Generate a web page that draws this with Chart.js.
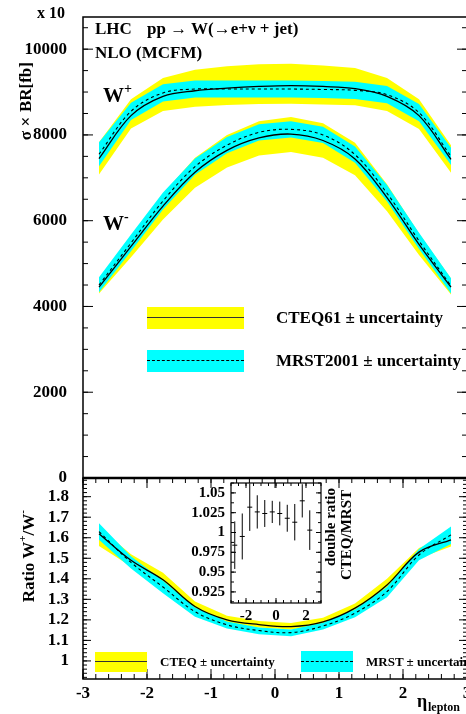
<!DOCTYPE html>
<html><head><meta charset="utf-8">
<script src="https://cdn.jsdelivr.net/npm/chart.js@4.4.0/dist/chart.umd.min.js"></script>
<style>
html,body{margin:0;padding:0;width:466px;height:714px;overflow:hidden;background:#fff;}
canvas{position:absolute;}
.t{position:absolute;font-family:"Liberation Serif","Times New Roman",serif;font-weight:bold;color:#000;white-space:nowrap;line-height:1;}
.v{writing-mode:vertical-rl;transform:rotate(180deg);}
.sw{position:absolute;}
</style></head><body>
<canvas id="top" width="480" height="500" style="left:0;top:0"></canvas>
<canvas id="bot" width="480" height="244" style="left:0;top:470px"></canvas>
<canvas id="ins" width="160" height="150" style="left:180px;top:475px"></canvas>

<div class="t" style="left:37px;top:5px;font-size:16px">x 10</div>
<div class="t" style="left:95px;top:20px;font-size:17px">LHC</div>
<div class="t" style="left:147px;top:20px;font-size:17px">pp → W(→e+ν + jet)</div>
<div class="t" style="left:95px;top:44px;font-size:17px">NLO (MCFM)</div>
<div class="t" style="left:103px;top:82px;font-size:21px">W<sup style="font-size:14px;vertical-align:9px">+</sup></div>
<div class="t" style="left:103px;top:210px;font-size:21px">W<sup style="font-size:14px;vertical-align:9px">-</sup></div>
<div class="t v" style="left:17px;top:62px;font-size:17px">σ×BR[fb]</div>
<div class="t v" style="left:17px;top:510px;font-size:17px">Ratio W<sup style="font-size:11px">+</sup>/W<sup style="font-size:11px">-</sup></div>

<div class="sw" style="left:147px;top:307px;width:97px;height:22px;background:#ffff00"></div>
<div class="sw" style="left:147px;top:317px;width:97px;height:0;border-top:1.5px solid #333"></div>
<div class="t" style="left:276px;top:309px;font-size:17px">CTEQ61 ± uncertainty</div>
<div class="sw" style="left:147px;top:350px;width:97px;height:22px;background:#00ffff"></div>
<div class="sw" style="left:147px;top:360px;width:97px;height:0;border-top:1px dashed #000"></div>
<div class="t" style="left:276px;top:352px;font-size:17px">MRST2001 ± uncertainty</div>

<div class="sw" style="left:95px;top:652px;width:52px;height:20px;background:#ffff00"></div>
<div class="sw" style="left:95px;top:661px;width:52px;height:0;border-top:1.5px solid #333"></div>
<div class="t" style="left:160px;top:655px;font-size:13px">CTEQ ± uncertainty</div>
<div class="sw" style="left:301px;top:651px;width:52px;height:21px;background:#00ffff"></div>
<div class="sw" style="left:301px;top:661px;width:52px;height:0;border-top:1px dashed #000"></div>
<div class="t" style="left:366px;top:655px;font-size:13px">MRST ± uncertainty</div>

<div class="t v" style="left:323px;top:488px;font-size:15px">double ratio</div>
<div class="t v" style="left:339px;top:490px;font-size:15px">CTEQ/MRST</div>
<div class="t" style="left:417px;top:692px;font-size:18px">η</div>
<div class="t" style="left:428px;top:701px;font-size:12px">lepton</div>

<script>
// ---------- data ----------
const eta = [-2.75,-2.25,-1.75,-1.25,-0.75,-0.25,0.25,0.75,1.25,1.75,2.25,2.75];

const wpCteq   = [7450,8450,8900,9030,9090,9130,9150,9130,9080,8900,8450,7430];
const wpCteqUp = [7830,8830,9330,9520,9600,9650,9660,9620,9560,9330,8830,7760];
const wpCteqDn = [7080,8150,8560,8660,8700,8720,8730,8710,8690,8560,8140,7120];
const wpMrst   = [7550,8550,8980,9070,9070,9070,9070,9060,9040,8940,8520,7500];
const wpMrstUp = [7830,8750,9180,9270,9270,9270,9270,9260,9240,9140,8720,7700];
const wpMrstDn = [7270,8350,8780,8870,8870,8870,8870,8860,8840,8740,8320,7300];

const wmCteq   = [4450,5400,6340,7130,7640,7930,8020,7870,7440,6540,5450,4450];
const wmCteqUp = [4650,5640,6630,7470,8000,8320,8420,8270,7820,6850,5700,4650];
const wmCteqDn = [4300,5150,6030,6770,7240,7520,7600,7470,7060,6220,5200,4280];
const wmMrst   = [4500,5480,6460,7260,7760,8060,8130,8000,7540,6640,5530,4480];
const wmMrstUp = [4680,5680,6660,7450,7950,8250,8320,8190,7730,6830,5720,4660];
const wmMrstDn = [4330,5290,6260,7070,7570,7870,7940,7810,7350,6450,5340,4300];

const rCteq   = [1.620,1.490,1.395,1.265,1.200,1.177,1.167,1.190,1.257,1.370,1.530,1.590];
const rCteqUp = [1.650,1.520,1.430,1.290,1.220,1.195,1.185,1.210,1.280,1.400,1.550,1.620];
const rCteqDn = [1.560,1.460,1.370,1.245,1.185,1.163,1.153,1.175,1.240,1.345,1.500,1.557];
const rMrst   = [1.630,1.480,1.360,1.240,1.176,1.148,1.138,1.170,1.233,1.338,1.516,1.614];
const rMrstUp = [1.670,1.510,1.390,1.260,1.192,1.163,1.153,1.186,1.250,1.360,1.545,1.655];
const rMrstDn = [1.590,1.450,1.330,1.215,1.158,1.130,1.120,1.153,1.213,1.310,1.490,1.570];

const dblEta = [-2.75,-2.25,-1.75,-1.25,-0.75,-0.25,0.25,0.75,1.25,1.75,2.25];
const dblVal = [0.984,0.995,1.032,1.026,1.024,1.026,1.024,1.018,1.013,1.040,1.003];
const dblErr = [0.030,0.029,0.030,0.021,0.017,0.014,0.015,0.017,0.023,0.021,0.025];

const topYTicks = [0,2000,4000,6000,8000,10000];
const topYLabels = ['0','2000','4000','6000','8000','10000'];
const botYTicks = [1.0,1.1,1.2,1.3,1.4,1.5,1.6,1.7,1.8];
const botYLabels = ['1','1.1','1.2','1.3','1.4','1.5','1.6','1.7','1.8'];
const xTicks = [-3,-2,-1,0,1,2,3];
const xLabels = ['-3','-2','-1','0','1','2','3'];
const insYTicks = [0.925,0.95,0.975,1.0,1.025,1.05];
const insYLabels = ['0.925','0.95','0.975','1','1.025','1.05'];
const insXTicks = [-2,0,2];
const insXLabels = ['-2','0','2'];

// ---------- helpers ----------
const YEL = '#ffff00', CYA = '#00ffff';
const pts = (xs, arr) => xs.map((x,i)=>({x, y:arr[i]}));
function band(up, dn, color, order){
  return [
    {data:pts(eta,up), borderWidth:0, pointRadius:0, fill:'+1', backgroundColor:color, order, tension:0},
    {data:pts(eta,dn), borderWidth:0, pointRadius:0, fill:false, order, tension:0}
  ];
}
function line(arr, dashed){
  return {data:pts(eta,arr), borderColor:'#000', borderWidth:dashed?1.1:1.3, borderDash:dashed?[3,3]:[],
          pointRadius:0, fill:false, tension:0.35, order:1};
}
function range(a,b,s){const r=[];for(let v=a;v<=b+1e-9;v+=s)r.push(+v.toFixed(6));return r;}

const inTicks = {
  id:'inTicks',
  afterDraw(chart, args, opts){
    const ctx = chart.ctx, a = chart.chartArea;
    ctx.save();
    ctx.strokeStyle = '#000';
    ctx.lineWidth = 1;
    (opts.axes||[]).forEach(ax=>{
      const s = chart.scales[ax.id];
      const draw = (vals, len)=>vals.forEach(v=>{
        const p = s.getPixelForValue(v);
        ax.sides.forEach(side=>{
          ctx.beginPath();
          if(side==='left'){ctx.moveTo(a.left,p);ctx.lineTo(a.left+len,p);}
          if(side==='right'){ctx.moveTo(a.right,p);ctx.lineTo(a.right-len,p);}
          if(side==='bottom'){ctx.moveTo(p,a.bottom);ctx.lineTo(p,a.bottom-len);}
          if(side==='top'){ctx.moveTo(p,a.top);ctx.lineTo(p,a.top+len);}
          ctx.stroke();
        });
      });
      draw(ax.minor, ax.nl);
      draw(ax.major, ax.ml);
    });
    ctx.lineWidth = opts.frame||1.5;
    ctx.strokeRect(a.left, a.top, a.right-a.left, a.bottom-a.top);
    if(opts.topLine){ctx.lineWidth=opts.topLine;ctx.beginPath();ctx.moveTo(a.left,a.top);ctx.lineTo(a.right,a.top);ctx.stroke();}
    ctx.restore();
  }
};
Chart.register(inTicks);
Chart.defaults.font.family = '"Liberation Serif","Times New Roman",serif';
Chart.defaults.font.weight = 'bold';
Chart.defaults.font.size = 17;
Chart.defaults.color = '#000';

const fixTicks = (vals)=> (s)=>{ s.ticks = vals.map(v=>({value:v})); };
const labelOf = (vals, labs)=> (v)=>{ const i = vals.findIndex(t=>Math.abs(t-v)<1e-9); return i>=0?labs[i]:''; };
const fitY = (w)=> (s)=>{ s.width = w; s.paddingTop = 0; s.paddingBottom = 0; s.paddingLeft = 0; s.paddingRight = 0; };
const fitX = (h)=> (s)=>{ s.height = h; s.paddingLeft = 0; s.paddingRight = 0; s.paddingTop = 0; s.paddingBottom = 0; };
const base = {responsive:false, animation:false, events:[],
  plugins:{legend:{display:false}, tooltip:{enabled:false}}};

// ---------- top chart ----------
new Chart(document.getElementById('top'), {
  type:'line',
  data:{datasets:[
    ...band(wpCteqUp, wpCteqDn, YEL, 4), ...band(wmCteqUp, wmCteqDn, YEL, 4),
    ...band(wpMrstUp, wpMrstDn, CYA, 3), ...band(wmMrstUp, wmMrstDn, CYA, 3),
    line(wpCteq,false), line(wpMrst,true), line(wmCteq,false), line(wmMrst,true)
  ]},
  options:{...base,
    layout:{padding:{left:0,right:13,top:17,bottom:22}},
    scales:{
      x:{type:'linear', min:-3, max:3, display:false},
      y:{type:'linear', min:0, max:10750,
         afterBuildTicks:fixTicks(topYTicks),
         afterFit:fitY(83),
         grid:{display:false, drawTicks:false}, border:{display:false},
         ticks:{padding:16, autoSkip:false, callback:labelOf(topYTicks, topYLabels), font:{size:17}}}
    },
    plugins:{...base.plugins, inTicks:{frame:1.5, axes:[
      {id:'y', sides:['left','right'], major:topYTicks, minor:range(0,10500,500), ml:10, nl:5}
    ]}}
  }
});

// ---------- ratio chart ----------
new Chart(document.getElementById('bot'), {
  type:'line',
  data:{datasets:[
    ...band(rCteqUp, rCteqDn, YEL, 4), ...band(rMrstUp, rMrstDn, CYA, 3),
    line(rCteq,false), line(rMrst,true)
  ]},
  options:{...base,
    layout:{padding:{left:0,right:13,top:8,bottom:0}},
    scales:{
      x:{type:'linear', min:-3, max:3,
         afterBuildTicks:fixTicks(xTicks),
         afterFit:fitX(35),
         grid:{display:false, drawTicks:false}, border:{display:false},
         ticks:{padding:4, maxRotation:0, autoSkip:false, callback:labelOf(xTicks,xLabels), font:{size:17}}},
      y:{type:'linear', min:0.912, max:1.891,
         afterBuildTicks:fixTicks(botYTicks),
         afterFit:fitY(83),
         grid:{display:false, drawTicks:false}, border:{display:false},
         ticks:{padding:14, autoSkip:false, callback:labelOf(botYTicks,botYLabels), font:{size:17}}}
    },
    plugins:{...base.plugins, inTicks:{frame:1.5, topLine:2.5, axes:[
      {id:'y', sides:['left','right'], major:botYTicks, minor:range(0.92,1.88,0.02), ml:8, nl:4},
      {id:'x', sides:['bottom','top'], major:xTicks, minor:range(-3,3,0.2), ml:10, nl:5}
    ]}}
  }
});

// ---------- inset ----------
const errPts = dblEta.flatMap((x,i)=>[{x,y:dblVal[i]-dblErr[i]},{x,y:dblVal[i]+dblErr[i]},{x,y:null}]);
new Chart(document.getElementById('ins'), {
  type:'line',
  data:{datasets:[
    {data:errPts, borderColor:'#000', borderWidth:1, pointRadius:0, spanGaps:false, fill:false, tension:0},
    {data:pts(dblEta,dblVal), showLine:false, pointStyle:'line', pointRadius:2.5, borderColor:'#000', borderWidth:1}
  ]},
  options:{...base,
    layout:{padding:{left:0,right:19,top:8,bottom:0}},
    scales:{
      x:{type:'linear', min:-3, max:3,
         afterBuildTicks:fixTicks(insXTicks),
         afterFit:fitX(22),
         grid:{display:false, drawTicks:false}, border:{display:false},
         ticks:{padding:4, maxRotation:0, autoSkip:false, callback:labelOf(insXTicks,insXLabels), font:{size:15}}},
      y:{type:'linear', min:0.911, max:1.0625,
         afterBuildTicks:fixTicks(insYTicks),
         afterFit:fitY(51),
         grid:{display:false, drawTicks:false}, border:{display:false},
         ticks:{padding:6, autoSkip:false, callback:labelOf(insYTicks,insYLabels), font:{size:15}}}
    },
    plugins:{...base.plugins, inTicks:{frame:1.2, axes:[
      {id:'y', sides:['left','right'], major:insYTicks, minor:range(0.9125,1.0625,0.0125), ml:5, nl:3},
      {id:'x', sides:['bottom','top'], major:insXTicks, minor:range(-3,3,0.5), ml:5, nl:3}
    ]}}
  }
});
</script>
</body></html>
